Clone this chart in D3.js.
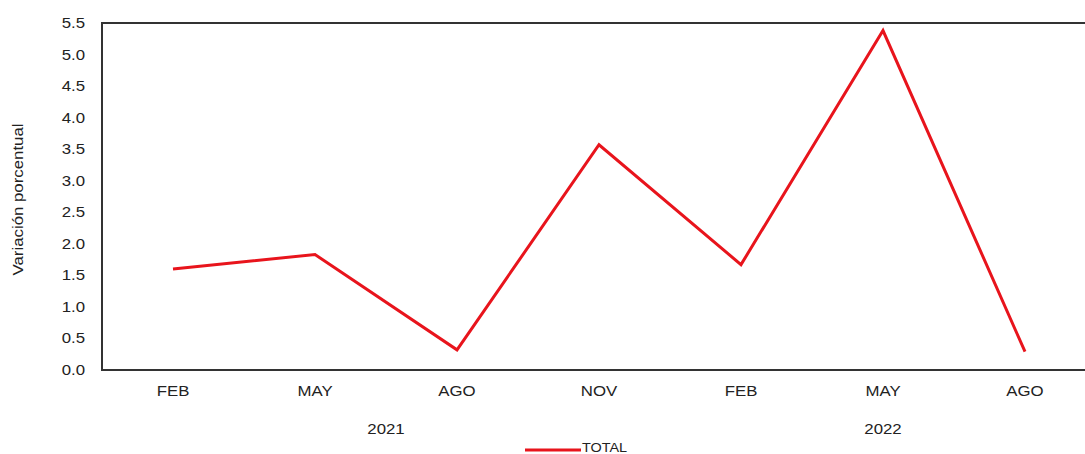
<!DOCTYPE html>
<html>
<head>
<meta charset="utf-8">
<script src="https://cdn.jsdelivr.net/npm/d3@7"></script>
<style>
  body { margin: 0; background: #fff; }
  text { font-family: "Liberation Sans", Arial, sans-serif; fill: #222; }
</style>
</head>
<body>
<div id="chart"></div>
<script>
// Data
const months = ["FEB", "MAY", "AGO", "NOV", "FEB", "MAY", "AGO"];
const years = ["2021", "2021", "2021", "2021", "2022", "2022", "2022"];
const total = [1.60, 1.83, 0.32, 3.57, 1.67, 5.38, 0.29];
const yTicks = [0, 0.5, 1, 1.5, 2, 2.5, 3, 3.5, 4, 4.5, 5, 5.5];

const W = 1085, H = 454;
const margin = { top: 23, left: 102, bottom: 84 };
const plotW = 994; // runs past the right edge of the window
const plotH = H - margin.top - margin.bottom;

const svg = d3.select("#chart").append("svg")
    .attr("width", W)
    .attr("height", H);

const g = svg.append("g")
    .attr("transform", `translate(${margin.left},${margin.top})`);

const x = d3.scaleBand()
    .domain(d3.range(total.length))
    .range([0, plotW]);

const y = d3.scaleLinear()
    .domain([0, 5.5])
    .range([plotH, 0]);

// frame: left, top, bottom
g.append("path")
    .attr("d", `M${plotW},0H0V${plotH}H${plotW}`)
    .attr("fill", "none")
    .attr("stroke", "#333")
    .attr("stroke-width", 2);

// y axis labels
const yAxis = g.append("g")
    .call(d3.axisLeft(y).tickValues(yTicks).tickFormat(d3.format(".1f")).tickSize(0).tickPadding(17));
yAxis.select(".domain").remove();
yAxis.selectAll("text").style("font-size", "14px").attr("fill", "#222");

// x month labels
const xAxis = g.append("g")
    .attr("transform", `translate(0,${plotH})`)
    .call(d3.axisBottom(x).tickFormat(i => months[i]).tickSize(0).tickPadding(16));
xAxis.select(".domain").remove();
xAxis.selectAll("text").style("font-size", "14px").attr("fill", "#222");

// year labels, centred under their months
const yearGroups = d3.groups(d3.range(years.length), i => years[i]);
g.selectAll(".year")
    .data(yearGroups)
    .join("text")
    .attr("class", "year")
    .attr("x", d => (x(d[1][0]) + x(d[1][d[1].length - 1])) / 2 + x.bandwidth() / 2)
    .attr("y", plotH + 64)
    .attr("text-anchor", "middle")
    .style("font-size", "14px")
    .text(d => d[0]);

// line
const line = d3.line()
    .x((d, i) => x(i) + x.bandwidth() / 2)
    .y(d => y(d));

g.append("path")
    .datum(total)
    .attr("d", line)
    .attr("fill", "none")
    .attr("stroke", "#e8141c")
    .attr("stroke-width", 3)
    .attr("stroke-linejoin", "miter");

// y title
svg.append("text")
    .attr("transform", `translate(23,${margin.top + plotH / 2 + 3}) rotate(-90)`)
    .attr("text-anchor", "middle")
    .style("font-size", "14px")
    .text("Variación porcentual");

// legend
const legend = svg.append("g").attr("transform", "translate(525,450)");
legend.append("line")
    .attr("x1", 0).attr("x2", 56)
    .attr("stroke", "#e8141c")
    .attr("stroke-width", 3);
legend.append("text")
    .attr("x", 57).attr("y", 2)
    .style("font-size", "12px")
    .text("TOTAL");

// the source text is a bit wider than plain Arial, stretch it
svg.selectAll("text").each(function() {
    const len = this.getComputedTextLength();
    d3.select(this)
        .attr("textLength", len * 1.2)
        .attr("lengthAdjust", "spacingAndGlyphs");
});
</script>
</body>
</html>
